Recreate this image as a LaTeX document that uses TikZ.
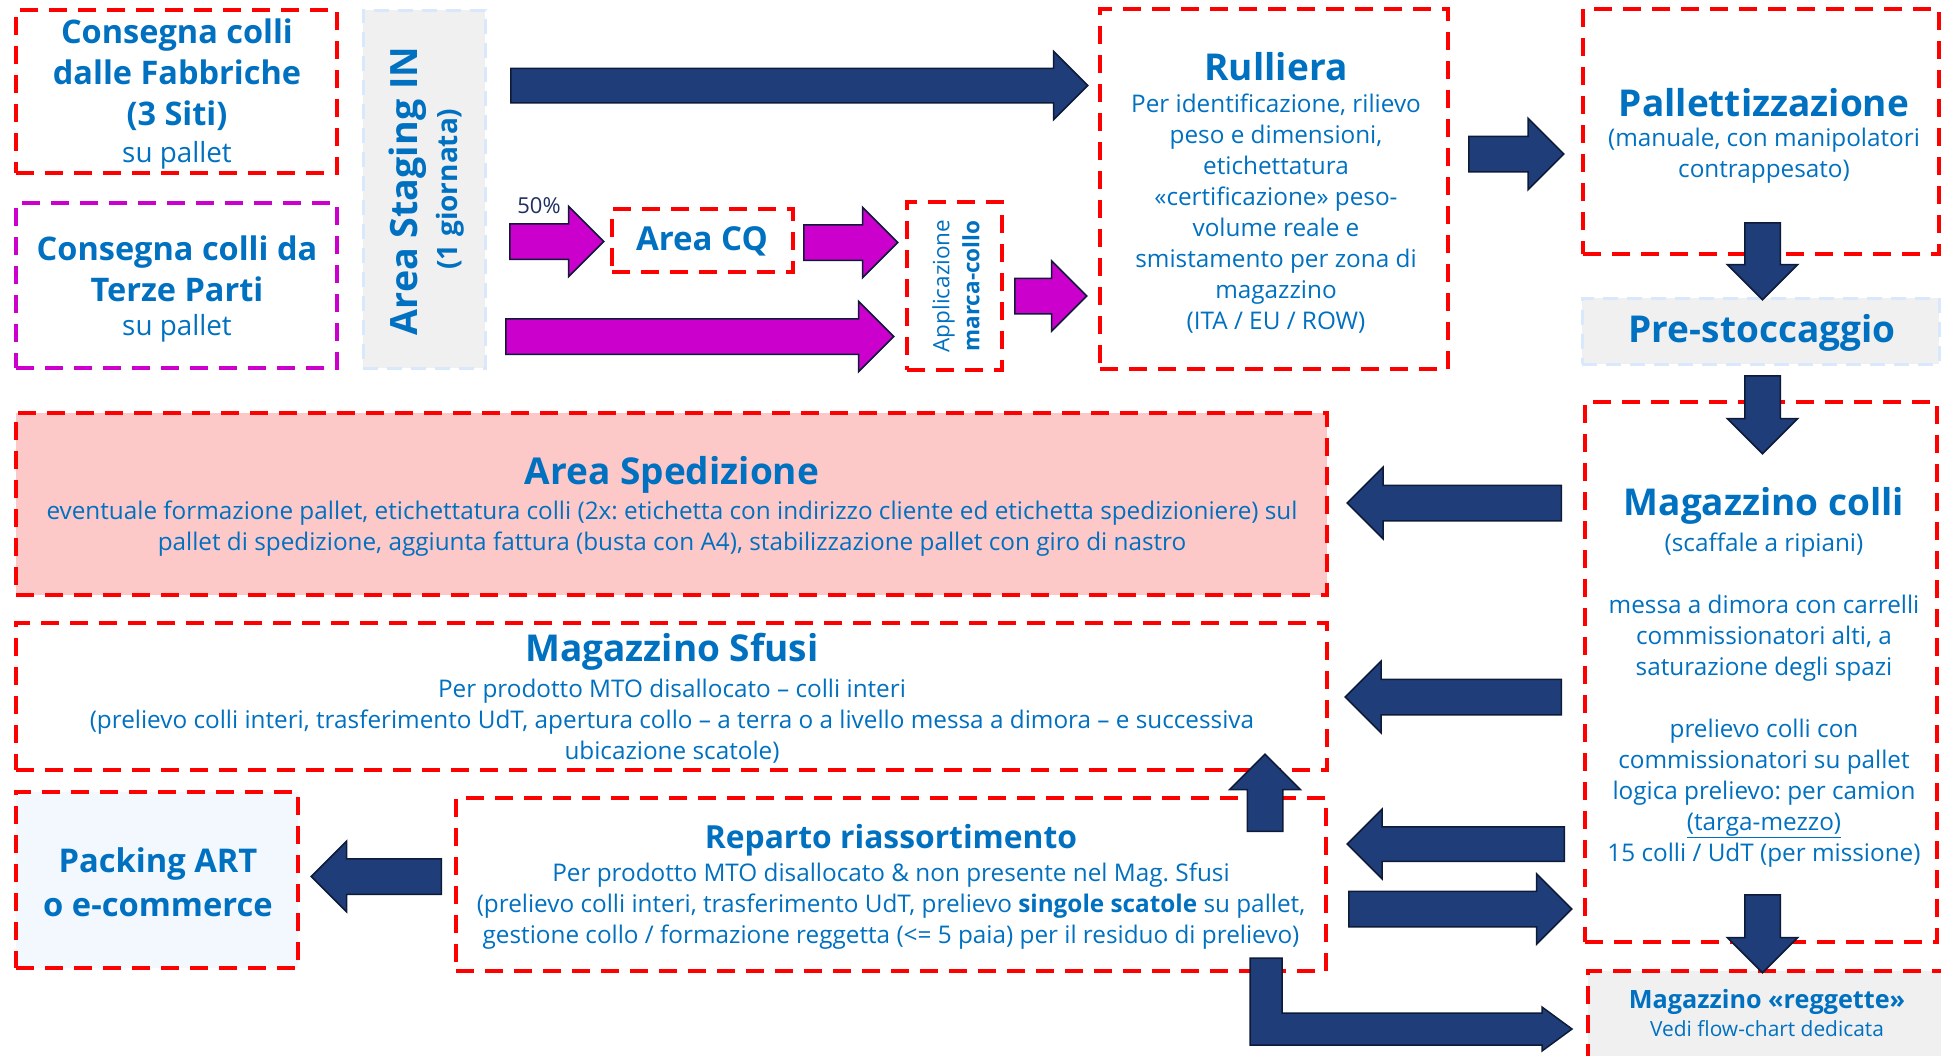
\documentclass[tikz,border=0pt]{standalone}
\usepackage{fontspec}
\setmainfont{Open Sans}
\usetikzlibrary{shapes.arrows}
\frenchspacing

\definecolor{txtblue}{HTML}{0070C0}
\definecolor{navy}{HTML}{1F3E79}
\definecolor{navyline}{HTML}{0E1B38}
\definecolor{mag}{HTML}{CC00CC}
\definecolor{pinkfill}{HTML}{FCC8C8}
\definecolor{grayfill}{HTML}{F0F0F0}
\definecolor{lblue}{HTML}{DAE8FC}
\definecolor{packfill}{HTML}{F3F8FE}
\definecolor{pcttxt}{HTML}{1F2F5F}

\tikzset{
  redbox/.style={draw=red, line width=4, dash pattern=on 18pt off 11pt},
  magbox/.style={draw=mag, line width=4, dash pattern=on 18pt off 11pt},
  greybox/.style={draw=lblue, fill=grayfill, line width=3, dash pattern=on 15pt off 9pt},
  navyarrow/.style={single arrow, draw=navyline, fill=navy, line width=1.5, anchor=tail,
    inner xsep=0, inner ysep=17, single arrow head extend=17.5},
  magarrow/.style={navyarrow, fill=mag}
}
\newcommand{\ftitle}{\bfseries\fontsize{37}{44}\selectfont}
\newcommand{\fsmall}{\bfseries\fontsize{32.5}{41}\selectfont}
\newcommand{\fbody}{\fontsize{24.3}{31}\selectfont}

\begin{document}
\begin{tikzpicture}[x=1pt,y=-1pt,every node/.style={text=txtblue, align=center, inner sep=0}]
\useasboundingbox (0,0) rectangle (1941,1055);

% Boxes
\node[redbox, minimum width=321, minimum height=163] (fab) at (176.5,91.5) {};
\node[magbox, minimum width=321, minimum height=165] (terze) at (176.5,285.5) {};
\node[greybox, minimum width=122, minimum height=358] (staging) at (424,189) {};
\node[redbox, minimum width=181, minimum height=63] (cq) at (702.5,240.5) {};
\node[redbox, minimum width=95, minimum height=168] (applic) at (954.5,286) {};
\node[redbox, minimum width=348, minimum height=360] (rulliera) at (1274,189) {};
\node[redbox, minimum width=356, minimum height=245] (pallet) at (1761,131.5) {};
\node[greybox, minimum width=357, minimum height=66] (prestock) at (1760.5,331) {};
\node[redbox, minimum width=352, minimum height=540] (magcolli) at (1761,672) {};
\node[redbox, fill=pinkfill, minimum width=1311, minimum height=182] (sped) at (671.5,504) {};
\node[redbox, minimum width=1311, minimum height=147] (sfusi) at (671.5,696.5) {};
\node[redbox, fill=packfill, minimum width=282, minimum height=176] (packing) at (157,880) {};
\node[redbox, minimum width=870, minimum height=173] (reparto) at (891,884.5) {};
\fill[grayfill] (1588,971) rectangle (1948,1062);
\draw[redbox] (1588,1062) -- (1588,971) -- (1948,971);

% Text
\node[font=\fsmall] (fabT) at (177,74.5) {Consegna colli\\dalle Fabbriche\\(3 Siti)};
\node[font=\fontsize{27.8}{31}\selectfont] (fabS) at (177,155) {su pallet};
\node[font=\fsmall] (terzeT) at (177,268.5) {Consegna colli da\\Terze Parti};
\node[font=\fontsize{27.8}{31}\selectfont] (terzeS) at (177,328) {su pallet};
\node[rotate=90, font=\bfseries\fontsize{37.6}{42}\selectfont] (stagT) at (408,191) {Area Staging IN};
\node[rotate=90, font=\bfseries\fontsize{28}{32}\selectfont] (stagS) at (450,189) {(1 giornata)};
\node[text=pcttxt, font=\fontsize{22}{26}\selectfont] (pct) at (539,206) {50\%};
\node[font=\bfseries\fontsize{33}{38}\selectfont] (cqT) at (702,241) {Area CQ};
\node[rotate=90, font=\fontsize{22.5}{30}\selectfont] (applicT) at (956,286) {Applicazione\\\textbf{marca-collo}};
\node[font=\ftitle] (rulT) at (1276,67) {Rulliera};
\node[font=\fbody] (rulB) at (1276,213.5) {Per identificazione, rilievo\\peso e dimensioni,\\etichettatura\\«certificazione» peso-\\volume reale e\\smistamento per zona di\\magazzino\\(ITA / EU / ROW)};
\node[font=\ftitle] (palT) at (1764,103) {Pallettizzazione};
\node[font=\fbody] (palB) at (1764,155.5) {(manuale, con manipolatori\\contrappesato)};
\node[font=\ftitle] (preT) at (1762,333) {Pre-stoccaggio};
\node[font=\ftitle] (magT) at (1764,506) {Magazzino colli};
\node[font=\fbody] (magB) at (1764,700) {(scaffale a ripiani)\\[31pt]messa a dimora con carrelli\\commissionatori alti, a\\saturazione degli spazi\\[31pt]prelievo colli con\\commissionatori su pallet\\logica prelievo: per camion\\\underline{(targa-mezzo)}\\15 colli / UdT (per missione)};
\node[font=\ftitle] (spedT) at (672,475) {Area Spedizione};
\node[font=\fbody] (spedB) at (672,528.5) {eventuale formazione pallet, etichettatura colli (2x: etichetta con indirizzo cliente ed etichetta spedizioniere) sul\\pallet di spedizione, aggiunta fattura (busta con A4), stabilizzazione pallet con giro di nastro};
\node[font=\ftitle] (sfusiT) at (672,652) {Magazzino Sfusi};
\node[font=\fbody] (sfusiB) at (672,721) {Per prodotto MTO disallocato – colli interi\\(prelievo colli interi, trasferimento UdT, apertura collo – a terra o a livello messa a dimora – e successiva\\ubicazione scatole)};
\node[font=\bfseries\fontsize{32.7}{44}\selectfont] (packT) at (158,882) {Packing ART\\o e-commerce};
\node[font=\bfseries\fontsize{31.8}{36}\selectfont] (repT) at (891,840) {Reparto riassortimento};
\node[font=\fbody] (repB) at (891,906.5) {Per prodotto MTO disallocato \& non presente nel Mag. Sfusi\\(prelievo colli interi, trasferimento UdT, prelievo \textbf{singole scatole} su pallet,\\gestione collo / formazione reggetta (<= 5 paia) per il residuo di prelievo)};
\node[font=\bfseries\fontsize{25.2}{28}\selectfont] (regT) at (1767,1002) {Magazzino «reggette»};
\node[font=\fontsize{20.9}{24}\selectfont] (regB) at (1767,1029) {Vedi flow-chart dedicata};

% Arrows (placed by their tail)
\node[navyarrow, inner ysep=16.5, single arrow head extend=17, minimum height=577] (aStagRul) at (510,85.5) {};
\node[magarrow, minimum height=94] (aCq) at (509,241.5) {};
\node[magarrow, minimum height=94] (aCqApp) at (803,242.5) {};
\node[magarrow, minimum height=388] (aTerzeApp) at (505,336.5) {};
\node[magarrow, minimum height=72] (aAppRul) at (1014,296) {};
\node[navyarrow, single arrow head extend=18, minimum height=95] (aRulPal) at (1468,154) {};
\node[navyarrow, rotate=-90, minimum height=77] (aPalPre) at (1762.5,222) {};
\node[navyarrow, rotate=-90, minimum height=78] (aPreMag) at (1762.5,375) {};
\node[navyarrow, rotate=180, single arrow head extend=18, minimum height=214] (aMagSped) at (1562,503) {};
\node[navyarrow, rotate=180, single arrow head extend=18, minimum height=216] (aMagSfusi) at (1562,697) {};
\node[navyarrow, rotate=180, inner ysep=16.5, minimum height=217] (aMagRep) at (1565,844) {};
\node[navyarrow, minimum height=223] (aRepMag) at (1348,909) {};
\node[navyarrow, rotate=90, minimum height=77] (aRepSfusi) at (1265,832) {};
\node[navyarrow, rotate=180, minimum height=130] (aRepPack) at (442,876.5) {};
\node[navyarrow, rotate=-90, minimum height=78] (aMagReg) at (1762.5,894) {};

% Bent arrow to reggette
\draw[draw=navyline, fill=navy, line width=1.5]
  (1250,958) -- (1282,958) -- (1282,1013) -- (1542,1013) -- (1542,1007)
  -- (1572,1029) -- (1542,1051) -- (1542,1045) -- (1250,1045) -- cycle;

\end{tikzpicture}
\end{document}
